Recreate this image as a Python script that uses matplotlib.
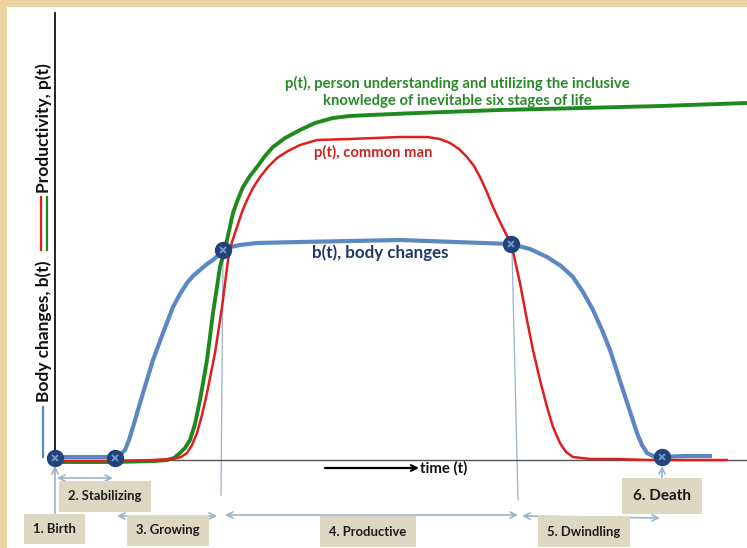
import matplotlib.pyplot as plt
from matplotlib.patches import Rectangle

plt.rcParams['font.family'] = ['Lato', 'DejaVu Sans']

# curvas (t = tempo, valores em unidades arbitrarias)
t_body = [0, 30, 60, 65, 70, 74, 78, 88, 98, 108, 118, 125, 132, 138, 145,
          152, 158, 168, 176, 185, 202, 245, 345, 400, 456, 475, 492, 506,
          518, 528, 538, 547, 555, 568, 582, 587, 592, 598, 605, 630, 657]
b_body = [3, 3, 3, 5, 10, 20, 33, 67, 100, 127, 153, 166, 177, 184, 190,
          196, 200, 209, 213, 215, 217, 218, 220, 218, 216, 211, 203, 194,
          183, 168, 150, 130, 110, 70, 27, 15, 7, 4, 3, 4, 4]

t_common = [0, 60, 100, 118, 126, 132, 137, 142, 147, 152, 160, 167, 173,
            177, 182, 187, 192, 198, 205, 213, 222, 233, 245, 262, 295, 345,
            372, 385, 395, 404, 412, 419, 425, 431, 438, 445, 452, 457, 465,
            471, 478, 485, 492, 498, 505, 511, 518, 535, 558, 595, 645, 673]
p_common = [-1, -1, 0, 1, 3, 7, 15, 27, 45, 67, 107, 153, 200,
            218, 233, 248, 260, 272, 283, 293, 302, 309, 315, 320, 321, 323,
            323, 321, 317, 311, 303, 294, 283, 270, 253, 238, 224, 213, 177,
            145, 110, 80, 53, 33, 17, 8, 3, 1, 1, 0, 0, 0]

t_aware = [0, 60, 100, 112, 119, 125, 130, 135, 140, 145, 152, 158, 165,
           172, 178, 183, 188, 195, 202, 210, 218, 230, 245, 260, 278, 295,
           315, 362, 445, 528, 605, 692]
p_aware = [-2, -2, -1, 0, 2, 7, 12, 20, 36, 60, 100, 147, 193,
           220, 247, 261, 273, 284, 293, 304, 313, 322, 330, 337, 342, 344,
           345, 347, 350, 352, 354, 357]

stage_t = [0, 60, 168, 456, 607]
stage_v = [2, 2, 210, 216, 3]

stage_names = ['1. Birth', '2. Stabilizing', '3. Growing', '4. Productive',
               '5. Dwindling', '6. Death']

blue = '#5B88C0'
red = '#E01E1E'
green = '#1E8A1E'
guide = '#9BB2CE'
boxc = '#DDD8C2'

fig = plt.figure(figsize=(7.47, 5.48), dpi=100, facecolor='#EAD4A4')

ax = fig.add_axes([0, 0, 1, 1])
ax.set_facecolor('none')
ax.add_patch(Rectangle((7 / 747, 0), 740 / 747, 541 / 548,
                       transform=fig.transFigure, facecolor='white',
                       edgecolor='none', zorder=0, clip_on=False))
ax.set_xlim(-55, 692)
ax.set_ylim(-88, 460)
ax.set_xticks([])
ax.set_yticks([])
for side in ['top', 'right']:
    ax.spines[side].set_visible(False)
ax.spines['left'].set_position(('data', 0))
ax.spines['bottom'].set_position(('data', 0))
ax.spines['left'].set_bounds(-2, 447)
ax.spines['bottom'].set_bounds(0, 692)
ax.spines['left'].set_color('#111111')
ax.spines['left'].set_linewidth(1.3)
ax.spines['bottom'].set_color('#555555')
ax.spines['bottom'].set_linewidth(1.0)

# linhas guia verticais
ax.plot([168, 166], [205, -35], color=guide, lw=0.9, zorder=1)
ax.plot([457, 463], [210, -40], color=guide, lw=0.9, zorder=1)

# curvas
ax.plot(t_body, b_body, color=blue, lw=3.0, solid_capstyle='butt',
        solid_joinstyle='round', zorder=3)
ax.plot(t_aware, p_aware, color=green, lw=2.8, solid_capstyle='butt',
        solid_joinstyle='round', zorder=4)
ax.plot(t_common, p_common, color=red, lw=1.8, solid_capstyle='butt',
        solid_joinstyle='round', zorder=5)

ax.plot(stage_t, stage_v, 'o', color='#22437A', markersize=11.5, zorder=6)
ax.plot(stage_t, stage_v, 'x', color='#7A9BD0', markersize=5, mew=1.3, zorder=7)

# setas das fases
arr = dict(arrowstyle='<->', color=guide, lw=1.2, shrinkA=0, shrinkB=0,
           mutation_scale=11)
ax.annotate('', xy=(2, -18), xytext=(58, -18), arrowprops=arr)
ax.annotate('', xy=(62, -56), xytext=(162, -56), arrowprops=arr)
ax.annotate('', xy=(170, -55), xytext=(463, -55), arrowprops=arr)
ax.annotate('', xy=(467, -56), xytext=(605, -58), arrowprops=arr)
up = dict(arrowstyle='->', color=guide, lw=1.2, shrinkA=0, shrinkB=0,
          mutation_scale=11)
ax.annotate('', xy=(0, -6), xytext=(0, -55), arrowprops=up)
ax.annotate('', xy=(607, -6), xytext=(607, -21), arrowprops=up)

label_pos = [(-0.5, -69), (50, -36.5), (113, -70.5), (313, -71.5),
             (529, -71.5), (607, -36)]
for name, (x, y) in zip(stage_names, label_pos):
    fs = 11 if name == '6. Death' else 9.4
    ax.text(x, y, name, ha='center', va='center', fontsize=fs,
            fontweight='bold', color='#1a1a1a', zorder=8,
            bbox=dict(boxstyle='square,pad=0.7', facecolor=boxc,
                      edgecolor='none'))

# eixo do tempo
ax.annotate('', xy=(364, -8), xytext=(270, -8),
            arrowprops=dict(arrowstyle='->', color='black', lw=1.6,
                            shrinkA=0, shrinkB=0, mutation_scale=10))
ax.text(365, -8, 'time (t)', ha='left', va='center', fontsize=10.8,
        fontweight='bold', color='#111111')

# rotulos das curvas
ax.text(402, 368, 'p(t), person understanding and utilizing the inclusive\n'
        'knowledge of inevitable six stages of life', ha='center',
        va='center', fontsize=10.7, fontweight='bold', color='#2A8A2A',
        linespacing=1.3)
ax.text(318, 308, 'p(t), common man', ha='center', va='center',
        fontsize=10.7, fontweight='bold', color='#CC2424')
ax.text(325, 207, 'b(t), body changes', ha='center', va='center',
        fontsize=12.2, fontweight='bold', color='#1F3864')

# rotulo do eixo y
ax.text(-11, 332, 'Productivity, p(t)', rotation=90, ha='center',
        va='center', fontsize=12.5, fontweight='bold', color='#111111')
ax.text(-11, 129, 'Body changes, b(t)', rotation=90, ha='center',
        va='center', fontsize=12.5, fontweight='bold', color='#111111')
ax.plot([-14, -14], [210, 263], color=red, lw=1.6)
ax.plot([-8, -8], [210, 263], color=green, lw=1.6)
ax.plot([-12, -12], [3, 53], color=blue, lw=1.6)

fig.savefig('out.png', dpi=100, facecolor=fig.get_facecolor())
